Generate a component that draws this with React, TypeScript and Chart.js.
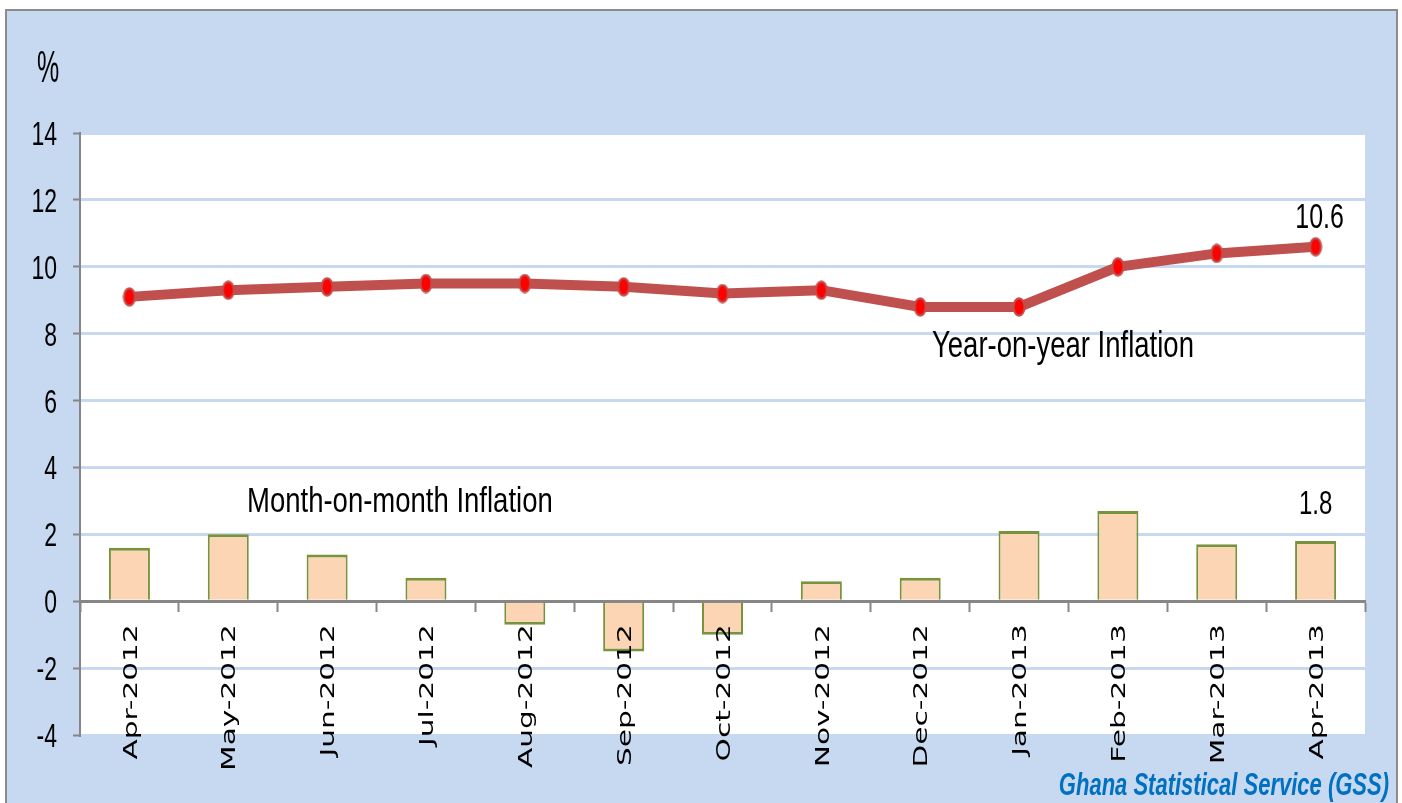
import React, { useEffect, useRef } from 'react';
import { Chart, registerables } from 'chart.js';

Chart.register(...registerables);

const categories = ['Apr-2012', 'May-2012', 'Jun-2012', 'Jul-2012', 'Aug-2012', 'Sep-2012', 'Oct-2012', 'Nov-2012', 'Dec-2012', 'Jan-2013', 'Feb-2013', 'Mar-2013', 'Apr-2013'];
const yearOnYear = [9.1, 9.3, 9.4, 9.5, 9.5, 9.4, 9.2, 9.3, 8.8, 8.8, 10.0, 10.4, 10.6];
const monthOnMonth = [1.6, 2.0, 1.4, 0.7, -0.7, -1.5, -1.0, 0.6, 0.7, 2.1, 2.7, 1.7, 1.8];
const yMin = -4;
const yMax = 14;
const yStep = 2;
const yUnit = '%';
const yoyLabel = 'Year-on-year Inflation';
const momLabel = 'Month-on-month Inflation';
const sourceLabel = 'Ghana Statistical Service (GSS)';

const BG = '#c6d9f1';
const GRAY = '#868686';

function drawText(ctx: CanvasRenderingContext2D, text: string, x: number, y: number, font: string, color: string, align: CanvasTextAlign, sx: number, sy: number, rot = 0) {
  ctx.save();
  ctx.translate(x, y);
  if (rot) ctx.rotate(rot);
  ctx.scale(sx, sy);
  ctx.font = font;
  ctx.fillStyle = color;
  ctx.textAlign = align;
  ctx.textBaseline = 'alphabetic';
  ctx.fillText(text, 0, 0);
  ctx.restore();
}

function makePoint(): HTMLCanvasElement {
  const c = document.createElement('canvas');
  c.width = 14;
  c.height = 20;
  const g = c.getContext('2d')!;
  g.fillStyle = '#c0504d';
  g.beginPath();
  g.ellipse(7, 10, 6.5, 9.8, 0, 0, Math.PI * 2);
  g.fill();
  g.fillStyle = '#ff0000';
  g.beginPath();
  g.ellipse(7, 10, 4.5, 7.5, 0, 0, Math.PI * 2);
  g.fill();
  return c;
}

const decorPlugin = {
  id: 'decor',
  beforeDraw(chart: any) {
    const ctx: CanvasRenderingContext2D = chart.ctx;
    const { width, height, chartArea } = chart;
    ctx.save();
    ctx.fillStyle = '#ffffff';
    ctx.fillRect(0, 0, width, height);
    ctx.fillStyle = BG;
    ctx.fillRect(6, 10, 1391, height);
    ctx.strokeStyle = '#8c8c8c';
    ctx.lineWidth = 2;
    ctx.strokeRect(6, 10, 1391, height + 10);
    ctx.fillStyle = '#ffffff';
    ctx.fillRect(chartArea.left, chartArea.top, chartArea.right - chartArea.left, chartArea.bottom - chartArea.top);
    ctx.restore();
  },
  afterDraw(chart: any) {
    const ctx: CanvasRenderingContext2D = chart.ctx;
    const xs = chart.scales.x;
    const ys = chart.scales.y;
    const zeroY = ys.getPixelForValue(0);
    // x category labels (rotated)
    categories.forEach((c, i) => {
      const x = xs.getPixelForValue(i);
      ctx.save();
      ctx.translate(x + 2, zeroY + 23);
      ctx.rotate(-Math.PI / 2);
      ctx.scale(1.48, 1);
      ctx.font = '20px "DejaVu Sans", sans-serif';
      ctx.fillStyle = '#000';
      ctx.textAlign = 'right';
      ctx.textBaseline = 'middle';
      ctx.fillText(c, 0, 0);
      ctx.restore();
    });
    // y tick labels
    for (let v = yMin; v <= yMax; v += yStep) {
      const y = ys.getPixelForValue(v);
      drawText(ctx, String(v), 57, y + 12, '23px "Liberation Sans", Arial, sans-serif', '#000', 'right', 1, 1.45);
    }
    drawText(ctx, yUnit, 37, 82, '25px "Liberation Sans", Arial, sans-serif', '#000', 'left', 1, 1.75);
    // value labels
    const last = categories.length - 1;
    const lx = xs.getPixelForValue(last);
    drawText(ctx, String(yearOnYear[last]), lx + 4, ys.getPixelForValue(yearOnYear[last]) - 19, '25px "Liberation Sans", Arial, sans-serif', '#000', 'center', 1, 1.42);
    drawText(ctx, String(monthOnMonth[last]), lx, ys.getPixelForValue(monthOnMonth[last]) - 27, '24px "Liberation Sans", Arial, sans-serif', '#000', 'center', 1, 1.42);
    // series annotations
    drawText(ctx, yoyLabel, 932, 357, '27.5px "Liberation Sans", Arial, sans-serif', '#000', 'left', 1, 1.33);
    drawText(ctx, momLabel, 247, 512, '27.5px "Liberation Sans", Arial, sans-serif', '#000', 'left', 1, 1.27);
    // source
    drawText(ctx, sourceLabel, 1389, 795, 'italic bold 22px "Liberation Sans", Arial, sans-serif', '#0070c0', 'right', 1, 1.44);
  },
};

export default function App() {
  const ref = useRef<HTMLCanvasElement>(null);
  useEffect(() => {
    if (!ref.current) return;
    const pointImg = makePoint();
    const chart = new Chart(ref.current, {
      type: 'bar',
      data: {
        labels: categories,
        datasets: [
          {
            type: 'line',
            label: yoyLabel,
            data: yearOnYear,
            borderColor: '#c0504d',
            borderWidth: 10,
            tension: 0,
            pointStyle: pointImg as any,
            pointRadius: 7,
            order: 0,
          } as any,
          {
            type: 'bar',
            label: momLabel,
            data: monthOnMonth,
            backgroundColor: '#fcd5b5',
            borderColor: '#77933c',
            borderWidth: { top: 3, bottom: 3, left: 2, right: 2 },
            barPercentage: 0.415,
            categoryPercentage: 1,
            order: 1,
          } as any,
        ],
      },
      options: {
        responsive: false,
        animation: false,
        devicePixelRatio: 1,
        layout: { padding: { left: 0, top: 133, right: 37, bottom: 68 } },
        plugins: { legend: { display: false }, tooltip: { enabled: false } },
        scales: {
          x: {
            position: { y: 0 } as any,
            offset: true,
            z: 1,
            grid: {
              offset: true,
              drawOnChartArea: false,
              drawTicks: true,
              tickLength: 9,
              tickColor: GRAY,
              tickWidth: 2,
            },
            border: { color: GRAY, width: 3 },
            ticks: { display: false },
          },
          y: {
            min: yMin,
            max: yMax,
            ticks: { stepSize: yStep, display: false },
            grid: {
              color: BG,
              lineWidth: 3,
              drawTicks: true,
              tickLength: 7,
              tickColor: GRAY,
              tickWidth: 2,
            },
            border: { color: GRAY, width: 2 },
            afterFit(scale: any) {
              scale.width = 80;
            },
          },
        },
      },
      plugins: [decorPlugin],
    });
    return () => chart.destroy();
  }, []);
  return (
    <div style={{ position: 'absolute', left: 0, top: 0, width: 1402, height: 803 }}>
      <canvas ref={ref} width={1402} height={803} style={{ display: 'block' }} />
    </div>
  );
}
